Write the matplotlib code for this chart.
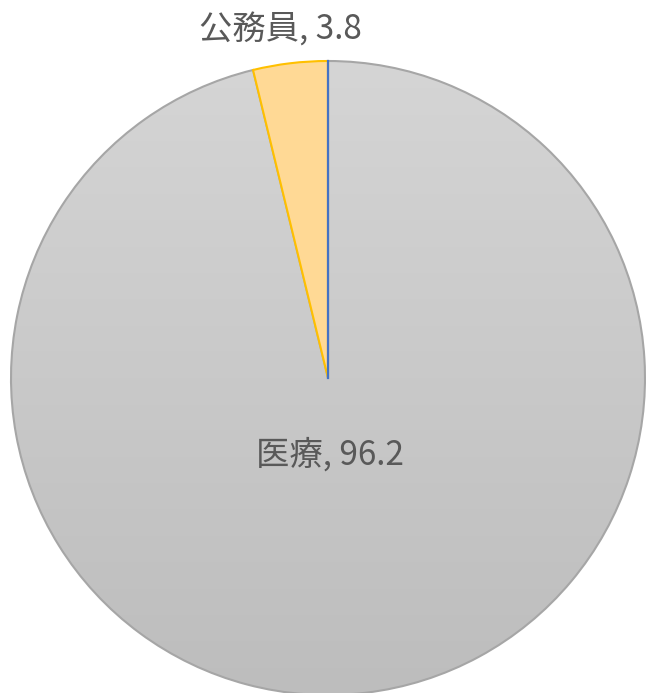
import numpy as np
import matplotlib.pyplot as plt
from matplotlib.colors import LinearSegmentedColormap

plt.rcParams['font.family'] = ['Noto Sans CJK JP', 'DejaVu Sans']

labels = ["医療", "公務員"]
values = [96.2, 3.8]
face_colors = ["#CBCBCB", "#FFD995"]
edge_colors = ["#A6A6A6", "#FFC000"]

W, H = 646, 693
cx, cy = 328, 378
R = 317

fig = plt.figure(figsize=(W / 100, H / 100), dpi=100)
ax = fig.add_axes([0, 0, 1, 1])

wedges, _ = ax.pie(values, radius=R, startangle=90, counterclock=False,
                   colors=face_colors, center=(0, 0), frame=True,
                   wedgeprops=dict(linewidth=1.5))
for w, ec in zip(wedges, edge_colors):
    w.set_edgecolor(ec)

# gradient fill on big slice (lighter at top)
cmap = LinearSegmentedColormap.from_list("g", ["#D5D5D5", "#BDBDBD"])
grad = np.linspace(0, 1, 256).reshape(-1, 1)
img = ax.imshow(grad, cmap=cmap, extent=(-R, R, -R, R), origin="upper",
                aspect="auto", zorder=2)
img.set_clip_path(wedges[0])
wedges[0].set_facecolor("none")
wedges[0].set_zorder(3)
wedges[1].set_zorder(4)

# start line
ax.plot([0, 0], [0, R], color="#4472C4", lw=1.6, zorder=10)

ax.text(2, -77, f"{labels[0]}, {values[0]}", ha="center", va="center",
        fontsize=24, color="#595959", zorder=11)
ax.text(-48, 348, f"{labels[1]}, {values[1]}", ha="center", va="center",
        fontsize=24, color="#595959", zorder=11)

ax.set_xlim(-cx, W - cx)
ax.set_ylim(-(H - cy), cy)
ax.set_aspect("equal")
ax.axis("off")

fig.savefig("out.png", dpi=100)
